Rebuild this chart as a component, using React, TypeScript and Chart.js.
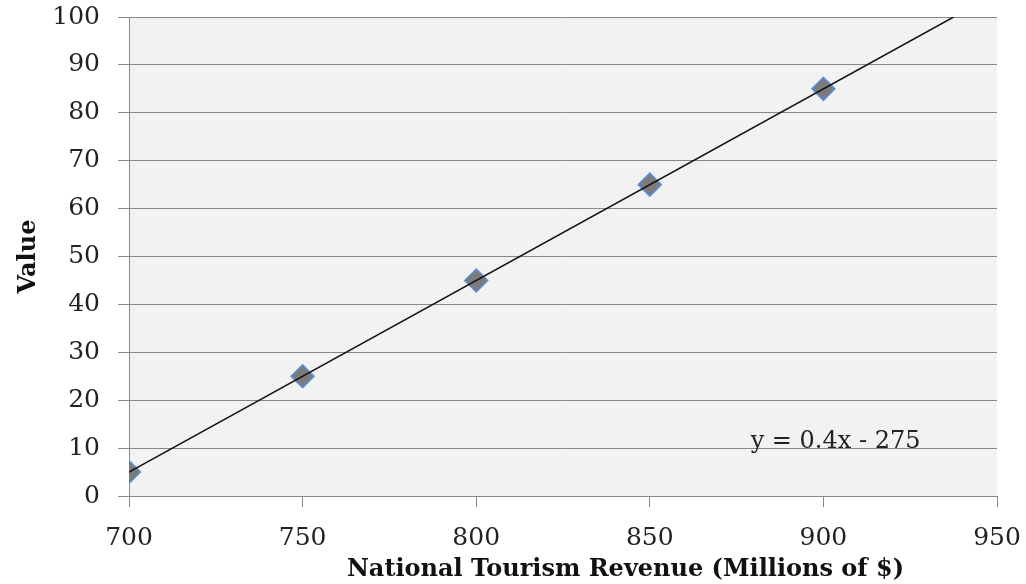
import React, { useEffect, useRef } from "react";
import { Chart, registerables } from "chart.js";

Chart.register(...registerables);

const revenueX = [700, 750, 800, 850, 900];
const valueY = [5, 25, 45, 65, 85];
const trendX = [700, 937.5];
const trendY = [5, 100];
const equationLabel = "y = 0.4x - 275";
const xTitle = "National Tourism Revenue (Millions of $)";
const yTitle = "Value";

const FONT = "'DejaVu Serif', serif";

const overlayPlugin = {
  id: "overlay",
  beforeDraw(chart: any) {
    const { ctx, chartArea } = chart;
    ctx.save();
    ctx.fillStyle = "#f2f2f2";
    ctx.fillRect(chartArea.left, chartArea.top, chartArea.right - chartArea.left, chartArea.bottom - chartArea.top);
    ctx.restore();
  },
  afterDraw(chart: any) {
    const { ctx, chartArea, scales } = chart;
    ctx.save();
    ctx.fillStyle = "#222222";
    // equation label
    ctx.font = `24px ${FONT}`;
    ctx.textAlign = "center";
    ctx.textBaseline = "alphabetic";
    ctx.fillText(equationLabel, scales.x.getPixelForValue(903.5), 448);
    // x title
    ctx.font = `bold 24px ${FONT}`;
    ctx.fillStyle = "#111111";
    const w = chartArea.right - chartArea.left;
    ctx.fillText(xTitle, chartArea.left + w * 0.572, 576);
    // y title
    ctx.translate(35, (chartArea.top + chartArea.bottom) / 2);
    ctx.rotate(-Math.PI / 2);
    ctx.fillText(yTitle, 0, 0);
    ctx.restore();
  },
};

export default function App() {
  const ref = useRef<HTMLCanvasElement | null>(null);
  useEffect(() => {
    if (!ref.current) return;
    const chart = new Chart(ref.current, {
      type: "scatter",
      data: {
        datasets: [
          {
            type: "line",
            label: "Trend",
            data: trendX.map((x, i) => ({ x, y: trendY[i] })),
            borderColor: "#111111",
            borderWidth: 1.5,
            pointRadius: 0,
            fill: false,
            order: 0,
          } as any,
          {
            label: "Value",
            data: revenueX.map((x, i) => ({ x, y: valueY[i] })),
            pointStyle: "rectRot",
            pointRadius: 11.5,
            pointHoverRadius: 11.5,
            backgroundColor: "#7b7b7b",
            borderColor: "#5b8fd6",
            borderWidth: 1.5,
            order: 1,
          },
        ],
      },
      options: {
        animation: false,
        responsive: true,
        maintainAspectRatio: false,
        layout: { padding: { left: 0, top: 17, right: 29, bottom: 0 } },
        plugins: { legend: { display: false }, tooltip: { enabled: false } },
        scales: {
          x: {
            type: "linear",
            min: 700,
            max: 950,
            afterFit: (s: any) => { s.height = 88; s.paddingLeft = 0; s.paddingRight = 0; },
            ticks: { stepSize: 50, color: "#222222", font: { family: FONT, size: 25 }, padding: 16 },
            grid: { drawOnChartArea: false, drawTicks: true, tickLength: 11, color: "#888888" },
            border: { color: "#888888" },
          },
          y: {
            type: "linear",
            min: 0,
            max: 100,
            afterFit: (s: any) => { s.width = 129; s.paddingTop = 0; s.paddingBottom = 0; },
            ticks: { stepSize: 10, color: "#222222", font: { family: FONT, size: 25 }, padding: 18 },
            grid: { drawTicks: true, tickLength: 11, color: "#888888" },
            border: { color: "#888888" },
          },
        },
      },
      plugins: [overlayPlugin],
    });
    return () => chart.destroy();
  }, []);
  return (
    <div style={{ position: "fixed", left: 0, top: 0, width: 1026, height: 584, background: "#fff" }}>
      <canvas ref={ref} />
    </div>
  );
}
